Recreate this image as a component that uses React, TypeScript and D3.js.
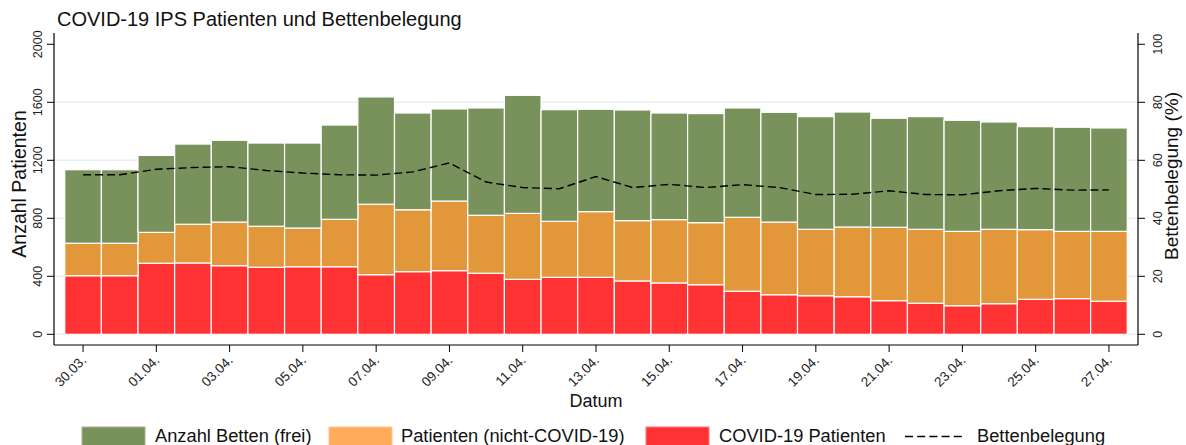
import React from "react";
import * as d3 from "d3";

const dates = ["30.03.","31.03.","01.04.","02.04.","03.04.","04.04.","05.04.","06.04.","07.04.","08.04.","09.04.","10.04.","11.04.","12.04.","13.04.","14.04.","15.04.","16.04.","17.04.","18.04.","19.04.","20.04.","21.04.","22.04.","23.04.","24.04.","25.04.","26.04.","27.04."];
const covid = [404,404,490,492,473,462,466,466,411,432,439,421,379,393,393,368,354,342,297,273,266,259,232,214,197,211,241,246,228];
const nonCovid = [224,224,213,267,301,283,267,327,486,427,480,400,455,386,453,416,437,428,510,501,458,481,506,510,513,513,481,464,482];
const freeBeds = [507,507,531,553,564,574,586,650,740,667,635,740,814,770,706,763,735,752,754,757,777,793,752,777,766,740,710,718,713];
const occupancy = [55.0,55.0,56.9,57.5,57.8,56.5,55.6,55.0,54.9,56.0,59.1,52.5,50.6,50.2,54.4,50.6,51.7,50.6,51.6,50.6,48.2,48.3,49.5,48.2,48.1,49.5,50.3,49.7,49.8];
const leftTicks = [0,400,800,1200,1600,2000];
const rightTicks = [0,20,40,60,80,100];
const gridTicks = [0,400,800,1200,1600];
const tickDates = dates.filter((_, i) => i % 2 === 0);

const seriesKeys = ["covid","nonCovid","free"];
const colors: Record<string,string> = { covid: "#ff3333", nonCovid: "#e3973b", free: "#79915a" };
const legendItems = [
  { label: "Anzahl Betten (frei)", color: "#79915a", stroke: "#a3b38c" },
  { label: "Patienten (nicht-COVID-19)", color: "#ffab5a", stroke: "#ffc88f" },
  { label: "COVID-19 Patienten", color: "#ff3333", stroke: "#ff7a7a" },
];

const FONT = "'Liberation Sans', Arial, Helvetica, sans-serif";

export default function App() {
  const W = 1186, H = 445;
  const xL = 54, xR = 1138, yTop = 33, yBot = 345;
  const x = d3.scaleBand<string>().domain(dates).range([xL, xR]).paddingInner(0).paddingOuter(0.293);
  const y = d3.scaleLinear().domain([0, 2000]).range([334.3, 44.3]);
  const yR = d3.scaleLinear().domain([0, 100]).range([334.3, 44.3]);

  const table = dates.map((d, i) => ({ date: d, covid: covid[i], nonCovid: nonCovid[i], free: freeBeds[i] }));
  const stacked = d3.stack<any>().keys(seriesKeys)(table);

  const line = d3.line<number>()
    .x((_, i) => (x(dates[i]) as number) + x.bandwidth() / 2)
    .y((v) => yR(v));

  const legendX = [82, 329, 646];
  const legendTextX = [155, 401, 719];

  return (
    <svg width={W} height={H} style={{ position: "absolute", left: 0, top: 0 }} fontFamily={FONT}>
      <rect x={0} y={0} width={W} height={H} fill="white" />
      <text x={57} y={26} fontSize={20} fill="#111">COVID-19 IPS Patienten und Bettenbelegung</text>

      {gridTicks.map((t) => (
        <line key={"g" + t} x1={xL} x2={xR} y1={y(t)} y2={y(t)} stroke="#e8eff2" strokeWidth={1.6} />
      ))}

      {stacked.map((s) => (
        <g key={s.key}>
          {s.map((d, i) => (
            <rect key={i} x={x(dates[i])} y={y(d[1])} width={x.bandwidth()} height={y(d[0]) - y(d[1])}
              fill={colors[s.key]} stroke="#ffffff" strokeWidth={1.2} />
          ))}
        </g>
      ))}

      <path d={line(occupancy) || ""} fill="none" stroke="#000" strokeWidth={1.4} strokeDasharray="8,4" />

      {/* axes */}
      <line x1={xL} x2={xL} y1={yTop} y2={yBot} stroke="#000" strokeWidth={1.2} />
      <line x1={xR} x2={xR} y1={yTop} y2={yBot} stroke="#000" strokeWidth={1.2} />
      <line x1={xL} x2={xR} y1={yBot} y2={yBot} stroke="#000" strokeWidth={1.2} />

      {leftTicks.map((t) => (
        <g key={"l" + t}>
          <line x1={xL - 7} x2={xL} y1={y(t)} y2={y(t)} stroke="#000" strokeWidth={1} />
          <text transform={`translate(42,${y(t)}) rotate(-90)`} textAnchor="middle" fontSize={12.5} fill="#222">{t}</text>
        </g>
      ))}
      {rightTicks.map((t) => (
        <g key={"r" + t}>
          <line x1={xR} x2={xR + 7} y1={yR(t)} y2={yR(t)} stroke="#000" strokeWidth={1} />
          <text transform={`translate(1161.5,${yR(t)}) rotate(-90)`} textAnchor="middle" fontSize={12.5} fill="#222">{t}</text>
        </g>
      ))}
      {tickDates.map((d) => {
        const cx = (x(d) as number) + x.bandwidth() / 2;
        return (
          <g key={"x" + d}>
            <line x1={cx} x2={cx} y1={yBot} y2={yBot + 7} stroke="#000" strokeWidth={1} />
            <text transform={`translate(${cx + 4},${yBot + 16}) rotate(-45)`} textAnchor="end" fontSize={13.5} fill="#222">{d}</text>
          </g>
        );
      })}

      <text transform={`translate(25.5,184) rotate(-90)`} textAnchor="middle" fontSize={19.5} fill="#111">Anzahl Patienten</text>
      <text transform={`translate(1177.5,176) rotate(-90)`} textAnchor="middle" fontSize={19} fill="#111">Bettenbelegung (%)</text>
      <text x={596} y={406.5} textAnchor="middle" fontSize={18} fill="#111">Datum</text>

      {legendItems.map((it, i) => (
        <g key={"lg" + i}>
          <rect x={legendX[i]} y={427} width={63} height={22} fill={it.color} stroke={it.stroke} strokeWidth={1} />
          <text x={legendTextX[i]} y={442} fontSize={18.3} fill="#111">{it.label}</text>
        </g>
      ))}
      <line x1={905} x2={965} y1={436.5} y2={436.5} stroke="#000" strokeWidth={1.5} strokeDasharray="8,4.2" />
      <text x={977} y={442} fontSize={18.3} fill="#111">Bettenbelegung</text>
    </svg>
  );
}
